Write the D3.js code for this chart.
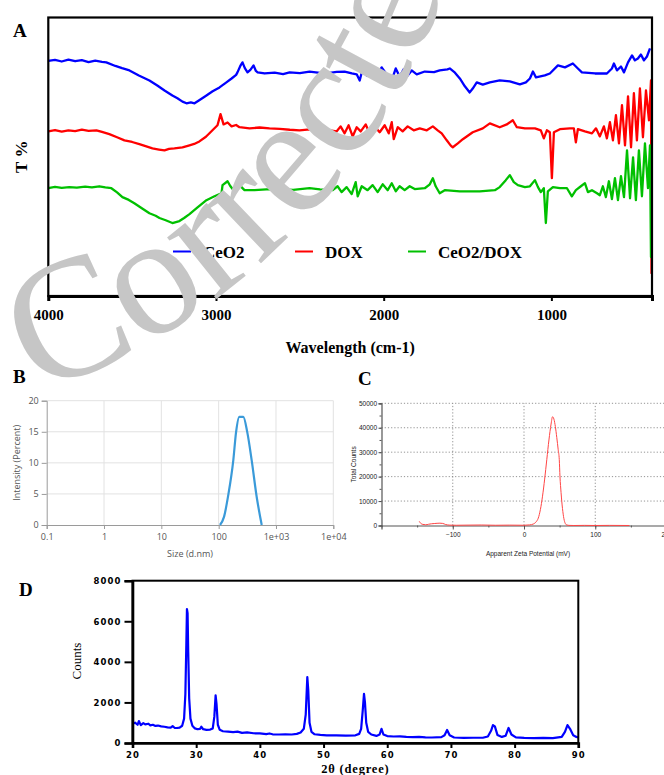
<!DOCTYPE html>
<html>
<head>
<meta charset="utf-8">
<script src="https://cdn.jsdelivr.net/npm/d3@7"></script>
<style>
  html, body { margin: 0; padding: 0; background: #fff; }
  svg { display: block; }
</style>
</head>
<body>
<svg id="fig" width="664" height="775"></svg>
<script>
// ---------- A: FTIR spectra, [wavenumber (cm-1), transmittance (a.u.)] ----------
const ftirNames = ["CeO2", "DOX", "CeO2/DOX"];
const ftirColors = ["#0000ff", "#ff0000", "#00c000"];
const ftirTicks = [4000, 3000, 2000, 1000];

const ceo2Spectrum = [[4000,84.4],[3960,84.8],[3920,84.2],[3880,84.9],[3840,84.3],[3800,84.7],[3760,84.0],[3720,84.5],[3680,84.1],[3654,83.9],[3600,82.6],[3560,81.8],[3516,81.0],[3460,79.2],[3397,77.4],[3350,75.6],[3307,73.8],[3260,72.0],[3230,71.0],[3200,69.8],[3176,69.2],[3150,69.5],[3128,69.2],[3100,70.3],[3057,72.0],[3020,73.5],[2979,74.9],[2940,76.6],[2907,78.1],[2880,79.4],[2872,80.3],[2855,82.6],[2842,83.9],[2828,81.8],[2812,80.3],[2795,81.2],[2776,82.8],[2762,80.8],[2752,80.3],[2710,79.9],[2650,80.2],[2600,79.7],[2561,80.3],[2500,80.0],[2442,80.6],[2380,80.1],[2322,80.1],[2280,80.5],[2233,80.6],[2190,79.9],[2161,79.6],[2143,77.4],[2125,81.7],[2101,79.2],[2072,81.0],[2042,78.8],[2012,82.1],[1982,79.6],[1952,77.4],[1928,81.7],[1905,78.8],[1881,81.4],[1857,79.2],[1833,81.0],[1803,79.6],[1755,80.6],[1700,80.4],[1666,81.0],[1620,81.4],[1606,81.7],[1575,80.2],[1546,78.1],[1516,75.3],[1487,73.1],[1469,74.5],[1445,76.7],[1409,75.9],[1367,76.7],[1308,77.4],[1248,77.1],[1188,76.0],[1152,76.7],[1128,78.1],[1110,80.6],[1092,78.5],[1039,79.2],[1009,79.9],[961,82.8],[919,82.1],[872,83.5],[842,81.7],[818,80.3],[740,79.9],[669,79.9],[639,81.7],[627,83.5],[609,81.0],[585,82.4],[567,80.3],[543,83.9],[519,86.4],[502,84.6],[484,85.3],[466,86.7],[448,84.6],[430,86.0],[412,88.9]];

const doxSpectrum = [[4000,59.1],[3960,59.6],[3920,59.0],[3880,59.5],[3840,59.2],[3800,59.7],[3760,59.3],[3713,59.5],[3680,58.9],[3636,58.1],[3590,57.0],[3546,55.9],[3500,55.3],[3457,54.5],[3420,53.8],[3379,53.0],[3340,52.6],[3307,52.3],[3280,52.8],[3248,53.0],[3200,53.4],[3158,54.1],[3130,54.6],[3099,55.5],[3060,57.2],[3021,59.5],[2991,61.3],[2973,65.3],[2955,61.6],[2931,62.3],[2907,60.9],[2880,61.4],[2860,60.6],[2800,60.2],[2740,60.5],[2681,60.2],[2620,60.0],[2560,59.7],[2502,59.5],[2440,59.8],[2382,59.5],[2330,59.6],[2281,59.1],[2257,60.9],[2233,58.4],[2209,61.3],[2185,57.3],[2161,60.6],[2137,59.1],[2107,61.6],[2084,58.4],[2054,60.9],[2024,58.8],[1994,61.3],[1970,58.4],[1952,62.4],[1940,56.3],[1916,60.6],[1887,59.1],[1857,60.9],[1821,59.5],[1785,60.2],[1743,59.5],[1707,60.9],[1678,59.5],[1654,58.4],[1624,55.9],[1600,54.0],[1588,53.4],[1558,54.8],[1528,56.3],[1469,58.8],[1409,60.2],[1367,62.0],[1308,60.6],[1266,61.6],[1230,63.1],[1206,60.6],[1158,60.2],[1098,60.2],[1063,59.5],[1045,56.6],[1027,59.5],[1009,58.8],[997,42.3],[985,58.8],[949,59.9],[890,60.2],[866,60.2],[854,55.2],[842,59.9],[800,59.1],[758,58.4],[734,60.2],[711,57.3],[687,60.9],[669,56.6],[651,62.4],[633,55.9],[615,64.9],[597,54.8],[579,68.5],[561,54.1],[543,71.7],[525,53.4],[508,72.8],[490,55.9],[472,74.5],[454,57.0],[436,73.8],[418,63.1],[406,77.4],[403,8.2],[401,77.0]];

const ceo2DoxSpectrum = [[4000,38.7],[3960,39.2],[3920,38.8],[3875,39.1],[3830,38.9],[3780,39.3],[3740,39.0],[3696,39.4],[3660,39.0],[3624,38.7],[3590,37.2],[3558,35.5],[3520,34.5],[3487,33.3],[3440,31.4],[3397,29.7],[3360,28.8],[3337,28.0],[3300,27.2],[3260,26.2],[3218,26.9],[3190,28.0],[3158,29.4],[3110,31.8],[3057,34.4],[3009,35.8],[2967,36.9],[2961,39.8],[2931,41.2],[2915,39.5],[2901,38.4],[2884,39.4],[2860,39.8],[2830,38.0],[2770,38.0],[2700,38.3],[2621,38.4],[2540,38.1],[2442,38.7],[2380,38.3],[2304,38.0],[2275,39.4],[2251,37.3],[2221,39.1],[2191,36.6],[2167,40.9],[2155,35.8],[2131,39.4],[2096,38.0],[2066,39.8],[2036,37.3],[2006,40.1],[1976,38.0],[1952,40.5],[1928,37.6],[1905,39.4],[1875,38.0],[1845,39.4],[1815,38.4],[1755,38.7],[1725,40.1],[1707,42.3],[1690,39.4],[1666,36.9],[1636,38.0],[1546,37.6],[1427,37.6],[1337,38.0],[1308,39.1],[1272,41.6],[1248,43.4],[1224,40.9],[1200,39.8],[1158,39.1],[1128,39.4],[1098,41.6],[1080,39.1],[1063,37.3],[1045,38.7],[1033,26.2],[1021,37.6],[991,39.1],[949,38.7],[907,38.7],[878,35.8],[854,38.0],[824,39.4],[800,40.5],[782,37.3],[758,38.0],[728,36.9],[711,36.2],[693,39.4],[675,35.5],[657,41.2],[639,34.8],[621,42.3],[603,34.4],[585,43.0],[567,35.5],[549,52.3],[531,35.1],[513,49.8],[496,34.4],[478,52.3],[460,35.8],[442,54.8],[424,38.7],[412,54.1],[406,14.0],[402,34.4]];

// ---------- B: DLS size distribution ----------
const sizeNm = [105.5, 124, 147, 180, 201, 229, 269, 316, 377, 461, 564];
const intensityPct = [0, 1.3, 4.8, 10.4, 14.9, 17.4, 17.4, 14.9, 10.4, 4.5, 0];
const sizeTicks = [0.1, 1, 10, 100, 1000, 10000];
const sizeTickLabels = ["0.1", "1", "10", "100", "1e+03", "1e+04"];
const intensityTicks = [0, 5, 10, 15, 20];

// ---------- C: zeta potential distribution ----------
const zetaMv = [-147,-145,-142,-138,-134,-130,-126,-122,-118,-114,-110,-104,-95,-80,-60,-40,-20,0,8,13,17,20,23,26,29,32,35,38,40,42,44,46,48,49.5,50.5,52,54,56,58,60,63,70,85,100,120,148];
const zetaCounts = [1700,900,450,300,500,700,800,900,950,850,400,150,100,150,200,100,150,100,250,600,1500,3000,6500,12000,19000,27000,35000,41500,44500,43500,40500,36000,31000,27000,20000,13500,7000,2800,800,200,50,0,50,0,50,0];
const zetaTicks = [-100, 0, 100, 200];
const countTicksC = [0, 10000, 20000, 30000, 40000, 50000];

// ---------- D: XRD pattern, [2θ (degree), counts] ----------
const xrdPattern = [[20,950],[20.4,1000],[20.8,900],[21,1080],[21.3,880],[21.7,980],[22,920],[22.5,950],[22.8,870],[23.2,900],[23.6,840],[24,860],[24.5,820],[25,800],[25.5,770],[26,760],[26.3,830],[26.6,750],[27,740],[27.4,760],[27.8,850],[28.1,1200],[28.3,2400],[28.45,4800],[28.55,6600],[28.65,6400],[28.75,4500],[28.9,2200],[29.1,1200],[29.4,850],[29.8,720],[30.2,680],[30.6,700],[30.8,800],[31.1,680],[31.6,650],[32.2,660],[32.6,720],[32.85,1300],[33.05,2350],[33.2,1900],[33.4,900],[33.7,650],[34.2,580],[35,560],[35.8,540],[36.5,560],[37.2,500],[38,520],[39,480],[40,470],[41,440],[41.5,470],[42,430],[43,420],[44,430],[45,420],[45.8,450],[46.4,520],[46.9,700],[47.2,1400],[47.45,3250],[47.6,2600],[47.8,1000],[48.1,550],[48.6,430],[49.5,400],[50.5,380],[52,380],[53.5,360],[55,380],[55.6,450],[55.9,700],[56.15,1600],[56.35,2420],[56.5,2000],[56.7,1000],[57,550],[57.5,420],[58.3,350],[58.8,420],[59.1,700],[59.4,420],[60,340],[61,320],[62,330],[63,300],[64,290],[65,300],[66,280],[67,270],[68.5,290],[69,380],[69.4,640],[69.8,380],[70.5,270],[72,250],[73.5,260],[75,260],[75.8,320],[76.3,600],[76.6,880],[76.9,820],[77.3,400],[78,300],[78.6,360],[79.05,740],[79.5,420],[80.2,280],[81.5,250],[83,240],[84.5,250],[86,240],[87.4,300],[87.9,550],[88.3,880],[88.7,700],[89.2,380],[89.7,300],[90,270]];
const twoThetaTicks = [20, 30, 40, 50, 60, 70, 80, 90];
const countTicksD = [0, 2000, 4000, 6000, 8000];

// ---------- drawing ----------
const svg = d3.select("#fig");
svg.append("rect").attr("width", 664).attr("height", 775).attr("fill", "#fff");

const serif = "'Liberation Serif','Times New Roman',Times,serif";
const sans = "'Open Sans','Noto Sans',sans-serif";
const small = "'Liberation Sans',Arial,sans-serif";

function panelLetter(t, x, y) {
  svg.append("text").attr("x", x).attr("y", y).text(t)
    .attr("font-family", serif).attr("font-weight", "bold").attr("font-size", 19)
    .attr("fill", "#000");
}

// ===== Panel A =====
const ax = d3.scaleLinear().domain([4000, 400]).range([48.3, 652]);
const ay = d3.scaleLinear().domain([0, 100]).range([296, 17.5]);
const gA = svg.append("g");
const lineA = d3.line().x(d => ax(d[0])).y(d => ay(d[1]));
[ceo2Spectrum, doxSpectrum, ceo2DoxSpectrum].forEach((s, i) => {
  gA.append("path").datum(s).attr("d", lineA)
    .attr("fill", "none").attr("stroke", ftirColors[i])
    .attr("stroke-width", 2.3).attr("stroke-linejoin", "round");
});
// frame
gA.append("rect").attr("x", ax(4000)).attr("y", ay(100))
  .attr("width", ax(400) - ax(4000)).attr("height", ay(0) - ay(100))
  .attr("fill", "none").attr("stroke", "#000").attr("stroke-width", 2.2);
const axisA = gA.append("g").attr("transform", `translate(0,${ay(0)})`)
  .call(d3.axisBottom(ax).tickValues(ftirTicks).tickSize(5).tickPadding(8).tickFormat(d3.format("d")));
axisA.select(".domain").attr("stroke-width", 3).attr("stroke", "#000");
axisA.selectAll(".tick line").attr("stroke", "#000").attr("stroke-width", 2);
axisA.selectAll(".tick text").attr("font-family", serif).attr("font-weight", "bold")
  .attr("font-size", 15).attr("fill", "#000");
gA.append("text").attr("x", (ax(4000) + ax(400)) / 2).attr("y", 353)
  .attr("text-anchor", "middle").text("Wavelength (cm-1)")
  .attr("font-family", serif).attr("font-weight", "bold").attr("font-size", 16);
gA.append("text").attr("transform", `translate(27,${(ay(0) + ay(100)) / 2}) rotate(-90)`)
  .attr("text-anchor", "middle").text("T %")
  .attr("font-family", serif).attr("font-weight", "bold").attr("font-size", 17);
// legend
const legendX = [203, 325, 438];
ftirNames.forEach((n, i) => {
  gA.append("line").attr("x1", legendX[i] - 30).attr("x2", legendX[i] - 12)
    .attr("y1", 251.5).attr("y2", 251.5)
    .attr("stroke", ftirColors[i]).attr("stroke-width", 2);
  gA.append("text").attr("x", legendX[i]).attr("y", 257.5).text(n)
    .attr("font-family", serif).attr("font-weight", "bold").attr("font-size", 17);
});
panelLetter("A", 13, 37);

// ===== Panel B =====
const bx = d3.scaleLog().domain([0.1, 1e4]).range([46.7, 333.3]);
const by = d3.scaleLinear().domain([0, 20]).range([525, 400.7]);
const gB = svg.append("g");
gB.selectAll(".hg").data(intensityTicks.slice(1)).join("line")
  .attr("x1", bx(0.1)).attr("x2", bx(1e4)).attr("y1", d => by(d)).attr("y2", d => by(d))
  .attr("stroke", "#e2e2e2").attr("stroke-width", 1);
gB.selectAll(".vg").data(sizeTicks.slice(1)).join("line")
  .attr("x1", d => bx(d)).attr("x2", d => bx(d)).attr("y1", by(0)).attr("y2", by(20))
  .attr("stroke", "#e2e2e2").attr("stroke-width", 1);
const bxAxis = gB.append("g").attr("transform", `translate(0,${by(0)})`)
  .call(d3.axisBottom(bx).tickValues(sizeTicks).tickSize(4).tickPadding(5)
    .tickFormat((d, i) => sizeTickLabels[i]));
const byAxis = gB.append("g").attr("transform", `translate(${bx(0.1)},0)`)
  .call(d3.axisLeft(by).tickValues(intensityTicks).tickSize(5).tickPadding(3));
[bxAxis, byAxis].forEach(a => {
  a.select(".domain").attr("stroke", "#9a9a9a");
  a.selectAll(".tick line").attr("stroke", "#9a9a9a");
  a.selectAll(".tick text").attr("font-family", sans).attr("font-size", 9).attr("fill", "#555");
});
gB.append("path").datum(sizeNm.map((s, i) => [s, intensityPct[i]]))
  .attr("d", d3.line().x(d => bx(d[0])).y(d => by(d[1])).curve(d3.curveMonotoneX))
  .attr("fill", "none").attr("stroke", "#3a9ad9").attr("stroke-width", 2.2);
gB.append("text").attr("x", (bx(0.1) + bx(1e4)) / 2).attr("y", 557)
  .attr("text-anchor", "middle").text("Size (d.nm)")
  .attr("font-family", sans).attr("font-size", 9).attr("fill", "#555");
gB.append("text").attr("transform", `translate(20,${(by(0) + by(20)) / 2}) rotate(-90)`)
  .attr("text-anchor", "middle").text("Intensity (Percent)")
  .attr("font-family", sans).attr("font-size", 9).attr("fill", "#555");
panelLetter("B", 13, 383);

// ===== Panel C =====
const cx = d3.scaleLinear().domain([-200, 200]).range([381.5, 666.5]);
const cy = d3.scaleLinear().domain([0, 50000]).range([525.5, 403.3]);
const gC = svg.append("g");
gC.selectAll(".hg").data(countTicksC.slice(1)).join("line")
  .attr("x1", cx(-200)).attr("x2", cx(200)).attr("y1", d => cy(d)).attr("y2", d => cy(d))
  .attr("stroke", "#777").attr("stroke-width", 0.8).attr("stroke-dasharray", "1.2,2");
gC.selectAll(".vg").data(zetaTicks).join("line")
  .attr("x1", d => cx(d)).attr("x2", d => cx(d)).attr("y1", cy(0)).attr("y2", cy(50000))
  .attr("stroke", "#777").attr("stroke-width", 0.8).attr("stroke-dasharray", "1.2,2");
const cyMinor = gC.append("g").attr("transform", `translate(${cx(-200)},0)`)
  .call(d3.axisLeft(cy).ticks(10).tickSize(2).tickFormat(""));
cyMinor.select(".domain").remove();
cyMinor.selectAll(".tick line").attr("stroke", "#555");
const cyAxis = gC.append("g").attr("transform", `translate(${cx(-200)},0)`)
  .call(d3.axisLeft(cy).tickValues(countTicksC).tickSize(3).tickPadding(1.5).tickFormat(d3.format("d")));
const cxMinor = gC.append("g").attr("transform", `translate(0,${cy(0)})`)
  .call(d3.axisBottom(cx).ticks(8).tickSize(2).tickFormat(""));
cxMinor.select(".domain").remove();
cxMinor.selectAll(".tick line").attr("stroke", "#555");
const cxAxis = gC.append("g").attr("transform", `translate(0,${cy(0)})`)
  .call(d3.axisBottom(cx).tickValues(zetaTicks).tickSize(4).tickPadding(3).tickFormat(d3.format("d")));
[cxAxis, cyAxis].forEach(a => {
  a.select(".domain").attr("stroke", "#555").attr("stroke-width", 1.2);
  a.selectAll(".tick line").attr("stroke", "#555");
  a.selectAll(".tick text").attr("font-family", small).attr("font-size", 6.5).attr("fill", "#222");
});
gC.append("path").datum(zetaMv.map((z, i) => [z, zetaCounts[i]]))
  .attr("d", d3.line().x(d => cx(d[0])).y(d => cy(d[1])).curve(d3.curveMonotoneX))
  .attr("fill", "none").attr("stroke", "#ff4545").attr("stroke-width", 1);
gC.append("text").attr("x", 528).attr("y", 555.5)
  .attr("text-anchor", "middle").text("Apparent Zeta Potential (mV)")
  .attr("font-family", small).attr("font-size", 6.5).attr("fill", "#222");
gC.append("text").attr("transform", `translate(356,${(cy(0) + cy(50000)) / 2}) rotate(-90)`)
  .attr("text-anchor", "middle").text("Total Counts")
  .attr("font-family", small).attr("font-size", 6.5).attr("fill", "#222");
panelLetter("C", 358, 385);

// ===== Panel D =====
const dx = d3.scaleLinear().domain([20, 90]).range([132.5, 578.3]);
const dy = d3.scaleLinear().domain([0, 8000]).range([743, 580.7]);
const gD = svg.append("g");
gD.append("path").datum(xrdPattern)
  .attr("d", d3.line().x(d => dx(d[0])).y(d => dy(d[1])))
  .attr("fill", "none").attr("stroke", "#0000ff").attr("stroke-width", 2.2)
  .attr("stroke-linejoin", "round");
gD.append("rect").attr("x", dx(20)).attr("y", dy(8000))
  .attr("width", dx(90) - dx(20)).attr("height", dy(0) - dy(8000))
  .attr("fill", "none").attr("stroke", "#000").attr("stroke-width", 2);
const dxAxis = gD.append("g").attr("transform", `translate(0,${dy(0)})`)
  .call(d3.axisBottom(dx).tickValues(twoThetaTicks).tickSize(5).tickPadding(4).tickFormat(d3.format("d")));
const dyAxis = gD.append("g").attr("transform", `translate(${dx(20)},0)`)
  .call(d3.axisLeft(dy).tickValues(countTicksD).tickSize(8).tickPadding(3).tickFormat(d3.format("d")));
[dxAxis, dyAxis].forEach(a => {
  a.select(".domain").attr("stroke", "#000").attr("stroke-width", 2.6);
  a.selectAll(".tick line").attr("stroke", "#000").attr("stroke-width", 2);
  a.selectAll(".tick text").attr("font-family", "'DejaVu Sans',sans-serif").attr("font-weight", "bold")
    .attr("font-size", 8.5).attr("letter-spacing", 1.1).attr("fill", "#000");
});
gD.append("text").attr("x", (dx(20) + dx(90)) / 2).attr("y", 773)
  .attr("text-anchor", "middle").text("2θ (degree)")
  .attr("font-family", serif).attr("font-weight", "bold").attr("font-size", 12.5).attr("letter-spacing", 0.8);
gD.append("text").attr("transform", `translate(81,661) rotate(-90)`)
  .attr("text-anchor", "middle").text("Counts")
  .attr("font-family", serif).attr("font-size", 13);
panelLetter("D", 19, 596);

// ===== "Corrected" stamp across the upper panels =====
const stampCx = -173, stampCy = -228, stampR = 655;
const a0 = 71.4 * Math.PI / 180, a1 = 0;
const p0 = [stampCx + stampR * Math.cos(a0), stampCy + stampR * Math.sin(a0)];
const p1 = [stampCx + stampR * Math.cos(a1), stampCy + stampR * Math.sin(a1)];
svg.append("defs").append("path").attr("id", "stampArc")
  .attr("d", `M${p0[0]},${p0[1]} A${stampR},${stampR} 0 0 0 ${p1[0]},${p1[1]}`);
svg.append("text").attr("font-family", serif).attr("font-size", 172).attr("fill", "#c6c6c6")
  .append("textPath").attr("href", "#stampArc").text("Corrected");
</script>
</body>
</html>
